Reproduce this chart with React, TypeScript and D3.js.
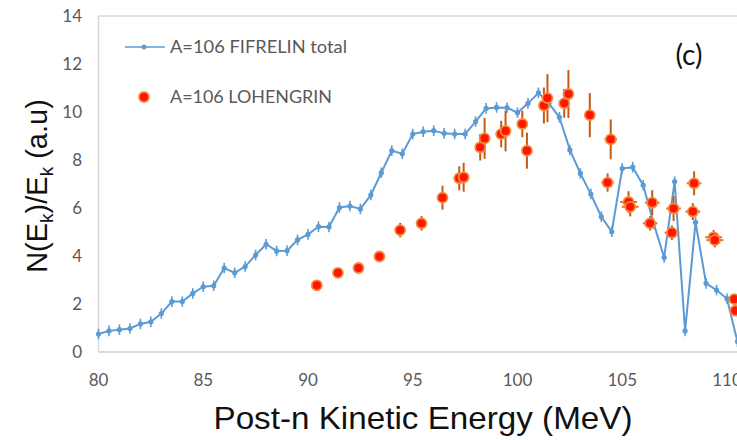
import React from "react";
import * as d3 from "d3";

const fifEnergy: number[] = [
  80.0, 80.5, 81.0, 81.5, 82.0, 82.5, 83.0, 83.5, 84.0, 84.5, 85.0, 85.5, 86.0, 86.5, 87.0, 87.5,
  88.0, 88.5, 89.0, 89.5, 90.0, 90.5, 91.0, 91.5, 92.0, 92.5, 93.0, 93.5, 94.0, 94.5, 95.0, 95.5,
  96.0, 96.5, 97.0, 97.5, 98.0, 98.5, 99.0, 99.5, 100.0, 100.5, 101.0, 101.5, 102.0, 102.5, 103.0,
  103.5, 104.0, 104.5, 105.0, 105.5, 106.0, 106.5, 107.0, 107.5, 108.0, 108.5, 109.0, 109.5, 110.0, 110.5,
];
const fifValue: number[] = [
  0.75, 0.88, 0.93, 0.98, 1.17, 1.26, 1.6, 2.1, 2.1, 2.44, 2.72, 2.76, 3.5, 3.3, 3.56, 4.04,
  4.49, 4.21, 4.22, 4.67, 4.9, 5.22, 5.21, 6.02, 6.08, 5.96, 6.54, 7.47, 8.39, 8.26, 9.08, 9.18,
  9.22, 9.11, 9.08, 9.08, 9.6, 10.15, 10.19, 10.18, 9.97, 10.36, 10.8, 10.36, 9.78, 8.42, 7.44,
  6.58, 5.64, 5.01, 7.65, 7.7, 6.95, 5.35, 3.94, 7.1, 0.88, 5.4, 2.86, 2.58, 2.22, 0.43,
];
const fifErr = 0.22;

const lohEnergy: number[] = [
  90.42, 91.43, 92.41, 93.41, 94.4, 95.42, 96.42, 97.22, 97.43, 98.22, 98.43, 99.22, 99.43,
  100.23, 100.45, 101.26, 101.43, 102.23, 102.43, 103.45, 104.3, 104.45, 105.3, 105.38,
  106.33, 106.43, 107.37, 107.45, 108.37, 108.43, 109.36, 109.42, 110.35, 110.4,
];
const lohValue: number[] = [
  2.78, 3.3, 3.5, 3.98, 5.08, 5.36, 6.43, 7.24, 7.28, 8.53, 8.9, 9.08, 9.21,
  9.5, 8.39, 10.27, 10.58, 10.36, 10.75, 9.87, 7.06, 8.86, 6.25, 6.05,
  5.36, 6.22, 4.97, 5.98, 5.85, 7.03, 4.78, 4.66, 2.2, 1.72,
];
const lohErr: number[] = [
  0.08, 0.08, 0.08, 0.1, 0.3, 0.3, 0.5, 0.5, 0.6, 0.55, 0.85, 0.55, 0.85,
  0.55, 0.75, 0.75, 1.0, 0.6, 1.0, 0.92, 0.38, 0.83, 0.45, 0.4,
  0.3, 0.52, 0.3, 0.52, 0.35, 0.5, 0.3, 0.3, 0.1, 0.1,
];
const lohXErr: number[] = [
  0.2, 0.2, 0.2, 0.2, 0.2, 0.2, 0.2, 0.2, 0.2, 0.2, 0.2, 0.2, 0.2,
  0.2, 0.2, 0.2, 0.2, 0.2, 0.2, 0.2, 0.3, 0.3, 0.4, 0.4,
  0.35, 0.35, 0.35, 0.35, 0.35, 0.35, 0.4, 0.4, 0.3, 0.3,
];

const xTicks: number[] = [80, 85, 90, 95, 100, 105, 110];
const yTicks: number[] = [0, 2, 4, 6, 8, 10, 12, 14];

const seriesNames: string[] = ["A=106 FIFRELIN total", "A=106 LOHENGRIN"];

const W = 737;
const H = 440;

export default function App() {
  const x = d3.scaleLinear().domain([80, 110]).range([98.5, 727]);
  const y = d3.scaleLinear().domain([0, 14]).range([352, 16]);

  const line = d3
    .line<number>()
    .x((_, i) => x(fifEnergy[i]))
    .y((v) => y(v));

  const blue = "#5B9BD5";
  const grid = "#D9D9D9";
  const tickColor = "#595959";

  return (
    <svg
      width={W}
      height={H}
      style={{ position: "absolute", left: 0, top: 0, background: "#fff" }}
      fontFamily="Lato, 'Open Sans', sans-serif"
    >
      {/* plot border */}
      <line x1={x(80)} x2={W + 5} y1={y(14)} y2={y(14)} stroke={grid} strokeWidth={1.5} />
      <line x1={x(80)} x2={x(80)} y1={y(14)} y2={y(0)} stroke={grid} strokeWidth={1.5} />
      <line x1={x(80)} x2={W + 5} y1={y(0)} y2={y(0)} stroke={grid} strokeWidth={2} />

      {/* y ticks */}
      {yTicks.map((t) => (
        <text key={"y" + t} x={82} y={y(t)} dy="0.36em" textAnchor="end" fontSize={17} fill={tickColor}>
          {t}
        </text>
      ))}
      {/* x ticks */}
      {xTicks.map((t) => (
        <text key={"x" + t} x={x(t)} y={386} textAnchor="middle" fontSize={17} fill={tickColor}>
          {t}
        </text>
      ))}

      {/* axis titles */}
      <text
        x={423}
        y={429}
        textAnchor="middle"
        fontSize={32}
        textLength={419}
        lengthAdjust="spacingAndGlyphs"
        fontFamily="'Liberation Sans', Arial, sans-serif"
        fill="#111"
      >
        Post-n Kinetic Energy (MeV)
      </text>
      <text
        transform="translate(47,186) rotate(-90)"
        textAnchor="middle"
        fontSize={29}
        fontFamily="'Liberation Sans', Arial, sans-serif"
        fill="#111"
      >
        N(E<tspan fontSize={19} dy={6}>k</tspan>
        <tspan dy={-6}>)/E</tspan>
        <tspan fontSize={19} dy={6}>k</tspan>
        <tspan dy={-6}> (a.u)</tspan>
      </text>

      {/* panel label */}
      <text x={689} y={55} dy="0.35em" textAnchor="middle" fontSize={28} fill="#111">
        (c)
      </text>

      {/* FIFRELIN line */}
      <path d={line(fifValue) || ""} fill="none" stroke={blue} strokeWidth={2} />
      {fifValue.map((v, i) => (
        <g key={"f" + i}>
          <line
            x1={x(fifEnergy[i])}
            x2={x(fifEnergy[i])}
            y1={y(v - fifErr)}
            y2={y(v + fifErr)}
            stroke={blue}
            strokeWidth={1.6}
          />
          <circle cx={x(fifEnergy[i])} cy={y(v)} r={2.6} fill={blue} />
        </g>
      ))}

      {/* LOHENGRIN points */}
      {lohValue.map((v, i) => (
        <g key={"l" + i}>
          <line
            x1={x(lohEnergy[i])}
            x2={x(lohEnergy[i])}
            y1={y(v - lohErr[i])}
            y2={y(v + lohErr[i])}
            stroke="#C55A11"
            strokeWidth={2}
          />
          <line
            x1={x(lohEnergy[i] - lohXErr[i])}
            x2={x(lohEnergy[i] + lohXErr[i])}
            y1={y(v)}
            y2={y(v)}
            stroke="#E0702A"
            strokeWidth={2}
          />
        </g>
      ))}
      {lohValue.map((v, i) => (
        <circle
          key={"c" + i}
          cx={x(lohEnergy[i])}
          cy={y(v)}
          r={5}
          fill="#FF1500"
          stroke="#F48A3C"
          strokeWidth={1.8}
        />
      ))}

      {/* legend */}
      <line x1={125} x2={165} y1={47} y2={47} stroke={blue} strokeWidth={1.5} />
      <circle cx={144} cy={47} r={2.5} fill={blue} />
      <text x={170} y={47} dy="0.35em" fontSize={17} textLength={177} lengthAdjust="spacingAndGlyphs" fill={tickColor}>
        {seriesNames[0]}
      </text>
      <circle cx={144} cy={97} r={5} fill="#FF1500" stroke="#F48A3C" strokeWidth={1.8} />
      <text x={170} y={97} dy="0.35em" fontSize={17} textLength={162} lengthAdjust="spacingAndGlyphs" fill={tickColor}>
        {seriesNames[1]}
      </text>
    </svg>
  );
}
